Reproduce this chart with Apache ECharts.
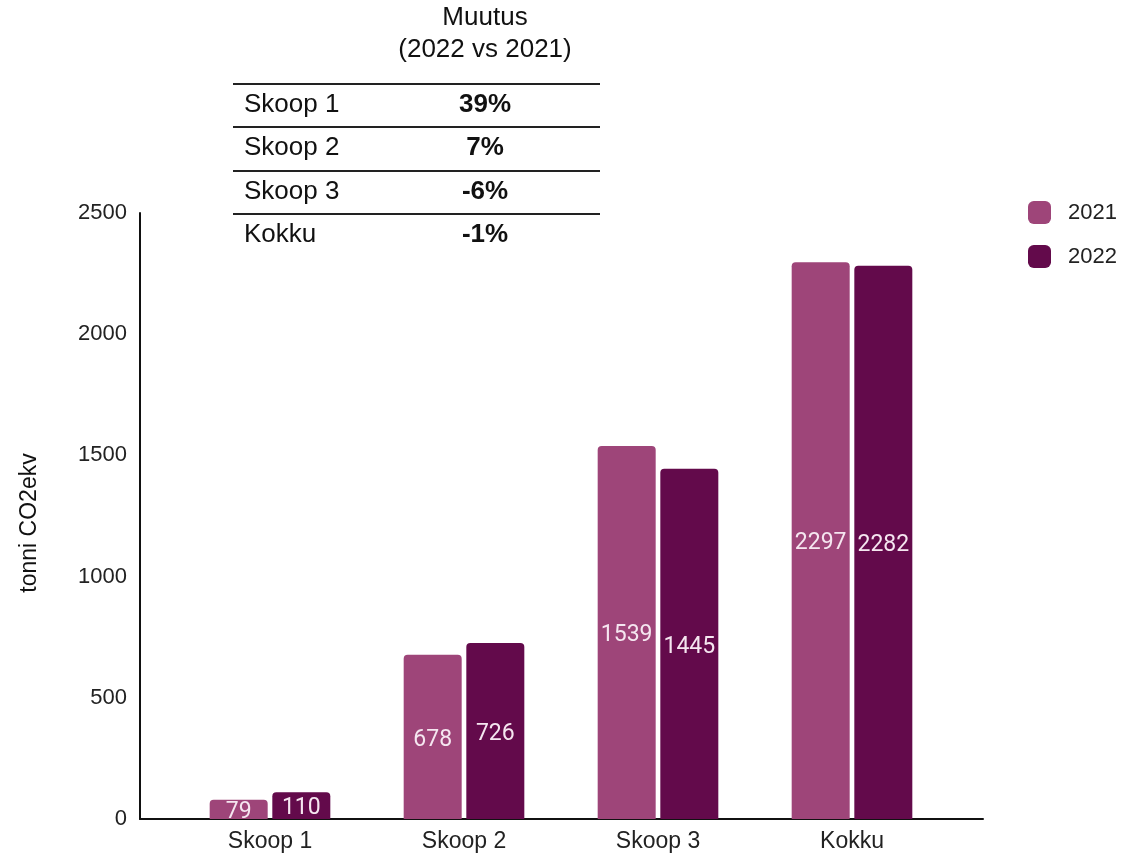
<!DOCTYPE html>
<html>
<head>
<meta charset="utf-8">
<title>Heitkogused 2021–2022</title>
<script src="https://cdn.jsdelivr.net/npm/echarts@6/dist/echarts.min.js"></script>
<style>
  html, body { margin: 0; padding: 0; background: #ffffff; }
  #chart { width: 1135px; height: 856px; }
</style>
</head>
<body>
<div id="chart"></div>
<script>
// Emissions per scope, tonnes CO2e
const categories = ['Skoop 1', 'Skoop 2', 'Skoop 3', 'Kokku'];
const seriesNames = ['2021', '2022'];
const values2021 = [79, 678, 1539, 2297];
const values2022 = [110, 726, 1445, 2282];
const yTicks = [0, 500, 1000, 1500, 2000, 2500];

// Change table shown above the plot
const tableTitle = ['Muutus', '(2022 vs 2021)'];
const tableRows = ['Skoop 1', 'Skoop 2', 'Skoop 3', 'Kokku'];
const tableChanges = ['39%', '7%', '-6%', '-1%'];

const colors = ['#9e4579', '#630a4b'];
const yMin = yTicks[0];
const yMax = yTicks[yTicks.length - 1];
const yStep = yTicks[1] - yTicks[0];
const SANS = '"Liberation Sans", Arial, sans-serif';

const chart = echarts.init(document.getElementById('chart'), null, { renderer: 'canvas' });

// table graphics
const tableGraphic = [];
const tLeft = 233, tRight = 600, tCenter = 485;
const tFont = '26px ' + SANS;
const tFontBold = 'bold 26px ' + SANS;
tableGraphic.push({
  type: 'text', x: tCenter, y: 18,
  style: { text: tableTitle[0], font: tFont, fill: '#111', align: 'center', verticalAlign: 'middle' }
});
tableGraphic.push({
  type: 'text', x: tCenter, y: 50,
  style: { text: tableTitle[1], font: tFont, fill: '#111', align: 'center', verticalAlign: 'middle' }
});
const rowLines = [84, 127, 171, 214];
rowLines.forEach(function (ly) {
  tableGraphic.push({
    type: 'line', shape: { x1: tLeft, y1: ly, x2: tRight, y2: ly },
    style: { stroke: '#222', lineWidth: 2 }
  });
});
tableRows.forEach(function (name, i) {
  const cy = rowLines[i] + 21;
  tableGraphic.push({
    type: 'text', x: 244, y: cy,
    style: { text: name, font: tFont, fill: '#111', align: 'left', verticalAlign: 'middle' }
  });
  tableGraphic.push({
    type: 'text', x: tCenter, y: cy,
    style: { text: tableChanges[i], font: tFontBold, fill: '#111', align: 'center', verticalAlign: 'middle' }
  });
});

const labelStyle = {
  show: true,
  position: 'inside',
  offset: [0, 3],
  color: '#f5e6f0',
  fontFamily: 'Roboto, sans-serif',
  fontSize: 23
};

chart.setOption({
  animation: false,
  backgroundColor: '#ffffff',
  color: colors,
  textStyle: { fontFamily: SANS },
  legend: {
    data: seriesNames,
    orient: 'vertical',
    left: 1028,
    top: 201,
    padding: 0,
    itemWidth: 23,
    itemHeight: 23,
    itemGap: 21,
    icon: 'roundRect',
    textStyle: { fontFamily: SANS, fontSize: 22, color: '#222', padding: [0, 0, 0, 12] }
  },
  grid: [
    // plotting area of the bars
    { left: 173, right: 186, top: 213, bottom: 37, containLabel: false },
    // frame carrying the axis lines and value labels
    { left: 140, right: 152, top: 213, bottom: 37, containLabel: false }
  ],
  xAxis: [
    {
      type: 'category', gridIndex: 0, data: categories,
      axisLine: { show: false }, axisTick: { show: false },
      axisLabel: { fontFamily: SANS, color: '#222', fontSize: 23, margin: 11 }
    },
    {
      type: 'value', gridIndex: 1, min: 0, max: 1,
      axisLine: { show: true, onZero: false, lineStyle: { color: '#111', width: 2 } },
      axisTick: { show: false }, axisLabel: { show: false }, splitLine: { show: false }
    }
  ],
  yAxis: [
    {
      type: 'value', gridIndex: 0, min: yMin, max: yMax, interval: yStep,
      axisLine: { show: false }, axisTick: { show: false },
      axisLabel: { show: false }, splitLine: { show: false }
    },
    {
      type: 'value', gridIndex: 1, min: yMin, max: yMax, interval: yStep,
      name: 'tonni CO2ekv', nameLocation: 'middle', nameGap: 99,
      nameTextStyle: { fontFamily: SANS, fontSize: 23, color: '#111', padding: [0, 14, 0, 0] },
      axisLine: { show: true, onZero: false, lineStyle: { color: '#111', width: 2 } },
      axisTick: { show: false },
      axisLabel: {
        fontFamily: SANS, color: '#222', fontSize: 22, margin: 13,
        formatter: function (v) { return String(v); }
      },
      splitLine: { show: false }
    }
  ],
  series: [
    {
      name: seriesNames[0], type: 'bar', xAxisIndex: 0, yAxisIndex: 0,
      data: values2021, barWidth: 58, barGap: '8%',
      itemStyle: { color: colors[0], borderRadius: [4, 4, 0, 0] },
      label: labelStyle
    },
    {
      name: seriesNames[1], type: 'bar', xAxisIndex: 0, yAxisIndex: 0,
      data: values2022, barWidth: 58, barGap: '8%',
      itemStyle: { color: colors[1], borderRadius: [4, 4, 0, 0] },
      label: labelStyle
    }
  ],
  graphic: tableGraphic
});
</script>
</body>
</html>
